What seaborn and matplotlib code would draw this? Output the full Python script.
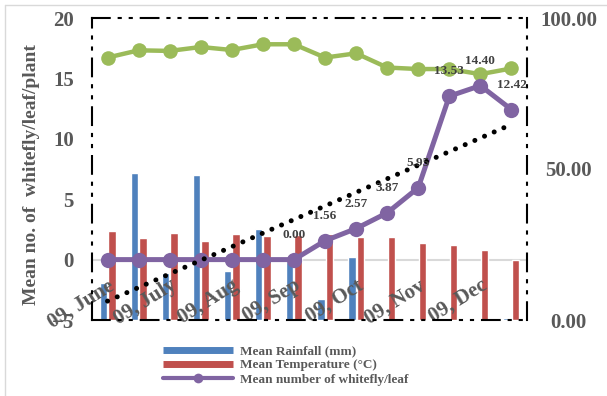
import numpy as np
import pandas as pd
import matplotlib
matplotlib.use("Agg")
import matplotlib.pyplot as plt
from matplotlib.lines import Line2D
import seaborn as sns

# Fortnightly observations, June to December 2009
months = ["09, June", "09, July", "09, Aug", "09, Sep", "09, Oct", "09, Nov", "09, Dec"]
obs = list(range(14))
rainfall = [12.3, 48.7, 15.6, 48.0, 16.2, 30.1, 19.2, 7.0, 20.9, 0.0, 0.4, 0.3, 0.0, 0.5]
temperature = [29.5, 27.2, 28.8, 26.2, 28.5, 27.8, 28.1, 28.5, 27.5, 27.5, 25.5, 24.8, 23.2, 19.9]
humidity = [86.9, 89.3, 89.1, 90.4, 89.4, 91.3, 91.3, 86.9, 88.3, 83.6, 83.1, 83.1, 81.4, 83.3]
whitefly = [0, 0, 0, 0, 0, 0, 0.00, 1.56, 2.57, 3.87, 5.95, 13.53, 14.40, 12.42]
first_labelled = 6

BLUE, RED, PURPLE, GREEN = "#4F81BD", "#C0504D", "#8064A2", "#9BBB59"
TXT = "#595959"
SERIF = "Liberation Serif"

sns.set_theme(style="white")
plt.rcParams["font.family"] = [SERIF, "DejaVu Serif"]
plt.rcParams["font.weight"] = "bold"

fig = plt.figure(figsize=(6.07, 3.96), dpi=100)
W, H = 607, 396
ax = fig.add_axes([92 / W, 1 - 320 / H, (527 - 92) / W, (320 - 18) / H])
ax2 = ax.twinx()

# bars on the right-hand scale
bars = pd.DataFrame({
    "obs": [str(i) for i in obs] * 2,
    "value": rainfall + temperature,
    "series": ["Mean Rainfall (mm)"] * 14 + ["Mean Temperature (°C)"] * 14,
})
sns.barplot(data=bars, x="obs", y="value", hue="series", order=[str(i) for i in obs],
            palette=[BLUE, RED], width=0.55, gap=0.12, ax=ax2, legend=False,
            saturation=1, zorder=2)

lo, hi = -5, 20
zero_right = (0 - lo) / (hi - lo) * 100
ax2.axhline(zero_right, color="#D9D9D9", lw=1.5, zorder=1)

sns.lineplot(x=obs, y=humidity, ax=ax2, color=GREEN, lw=3.2, marker="o",
             markersize=10.5, markeredgewidth=0, zorder=3)
ax2.set_ylim(0, 100)
ax2.set_yticks([0, 50, 100])
ax2.set_yticklabels([f"{v:.2f}" for v in [0, 50, 100]], ha="center")
ax2.tick_params(axis="y", length=0, pad=30, labelsize=15, labelcolor=TXT)
ax2.set_ylabel("")
ax2.set_xlabel("")
for s in ax2.spines.values():
    s.set_visible(False)

# whitefly counts on the left-hand scale, drawn above the bars
ax.set_zorder(ax2.get_zorder() + 1)
ax.patch.set_visible(False)
sns.lineplot(x=obs, y=whitefly, ax=ax, color=PURPLE, lw=3.6, marker="o",
             markersize=11, markeredgewidth=0, zorder=3)
sns.regplot(x=obs, y=whitefly, ax=ax, scatter=False, ci=None, truncate=True,
            line_kws=dict(color="black", lw=3.6, linestyle=(0, (0.01, 2.1)),
                          dash_capstyle="round", zorder=4))
for i in obs[first_labelled:]:
    ax.annotate(f"{whitefly[i]:.2f}", (i, whitefly[i]), xytext=(0, 18),
                textcoords="offset points", ha="center", va="center",
                fontsize=9.5, fontweight="bold", color="#404040", zorder=5)

ax.set_xlim(-0.5, 13.5)
ax.set_ylim(lo, hi)
ax.set_yticks(range(lo, hi + 1, 5))
ax.tick_params(axis="y", length=0, pad=13, labelsize=15, labelcolor=TXT)
ax.set_xticks(obs[::2])
ax.set_xticklabels(months, rotation=32, ha="right", rotation_mode="anchor")
ax.tick_params(axis="x", length=0, pad=-32, labelsize=15, labelcolor=TXT)
ax.set_xlabel("")
ax.set_ylabel("Mean no. of  whitefly/leaf/plant", fontsize=14, color=TXT,
              fontweight="bold")
ax.yaxis.set_label_coords(-0.12, 0.48)

dash = (0, (8.5, 4.3, 1, 4.3, 1, 4.3))
for s in ax.spines.values():
    s.set_visible(True)
    s.set_color("black")
    s.set_linewidth(1.5)
    s.set_linestyle(dash)

# outer chart border
fig.add_artist(Line2D([5 / W, 1], [1 - 5 / H, 1 - 5 / H], color="#D9D9D9", lw=1))
fig.add_artist(Line2D([5 / W, 5 / W], [0, 1 - 5 / H], color="#D9D9D9", lw=1))

handles = [
    Line2D([], [], color=BLUE, lw=5, solid_capstyle="butt"),
    Line2D([], [], color=RED, lw=5, solid_capstyle="butt"),
    Line2D([], [], color=PURPLE, lw=3, marker="o", markersize=7, markeredgewidth=0),
]
labels = ["Mean Rainfall (mm)", "Mean Temperature (°C)", "Mean number of whitefly/leaf"]
fig.legend(handles, labels, loc="upper left", bbox_to_anchor=(163 / W, 1 - 345 / H),
           frameon=False, prop=dict(family=SERIF, weight="bold", size=9.5),
           labelcolor=TXT, handlelength=5.3, handletextpad=0.5, labelspacing=0.15,
           borderpad=0, borderaxespad=0)

fig.savefig("out.png", dpi=100)
